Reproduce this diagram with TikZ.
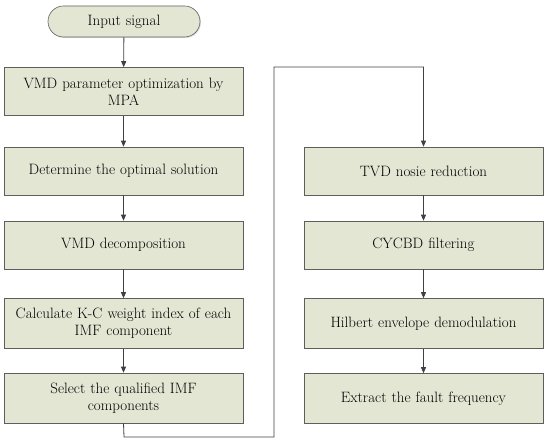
\documentclass[tikz,border=0pt]{standalone}
\usepackage{tikz}
\usetikzlibrary{arrows.meta,positioning,calc,shadows}
\definecolor{boxfill}{HTML}{E3E6D3}
\definecolor{boxline}{HTML}{5E5E5E}
\definecolor{flowline}{HTML}{404040}

\begin{document}
\begin{tikzpicture}[x=1pt,y=1pt,>={Triangle[length=6pt,width=5pt]},font=\fontsize{15}{17}\selectfont]
  \tikzset{
    stepbox/.style={draw=boxline,semithick,fill=boxfill,align=center,
      minimum width=239pt,text width=232pt,minimum height=48pt,inner sep=2pt,
      drop shadow={shadow xshift=1pt,shadow yshift=-1pt,fill=gray!45,opacity=0.6}},
    startbox/.style={stepbox,minimum width=152pt,text width=145pt,
      minimum height=31pt,rounded corners=15.5pt},
    flow/.style={->,thick,draw=flowline}
  }
  \useasboundingbox (0,0) rectangle (550,444);
  % left column
  \node[startbox] (input) at (124,422.5) {Input signal};
  \node[stepbox] (mpa) at (123.5,352.5) {VMD parameter optimization by\\MPA};
  \node[stepbox] (optim) at (123.5,273) {Determine the optimal solution};
  \node[stepbox] (vmd) at (123.5,199) {VMD decomposition};
  \node[stepbox,minimum height=50pt] (kc) at (123.5,120.5) {Calculate K-C weight index of each\\IMF component};
  \node[stepbox,minimum height=50pt] (imf) at (123.5,46) {Select the qualified IMF\\components};
  % right column
  \node[stepbox] (tvd) at (423.5,273) {TVD nosie reduction};
  \node[stepbox] (cycbd) at (423.5,199) {CYCBD filtering};
  \node[stepbox,minimum height=50pt] (hilb) at (423.5,120.5) {Hilbert envelope demodulation};
  \node[stepbox,minimum height=50pt] (fault) at (423.5,45.5) {Extract the fault frequency};
  % connectors
  \draw[flow] (input) -- (mpa);
  \draw[flow] (mpa) -- (optim);
  \draw[flow] (optim) -- (vmd);
  \draw[flow] (vmd) -- (kc);
  \draw[flow] (kc) -- (imf);
  \coordinate (turnA) at (124,7);
  \coordinate (turnB) at (274,7);
  \coordinate (turnC) at (274,377);
  \coordinate (turnD) at (423.5,377);
  \draw[flow] (imf.south) -- (turnA) -- (turnB) -- (turnC) -- (turnD) -- (tvd.north);
  \draw[flow] (tvd) -- (cycbd);
  \draw[flow] (cycbd) -- (hilb);
  \draw[flow] (hilb) -- (fault);
\end{tikzpicture}
\end{document}
